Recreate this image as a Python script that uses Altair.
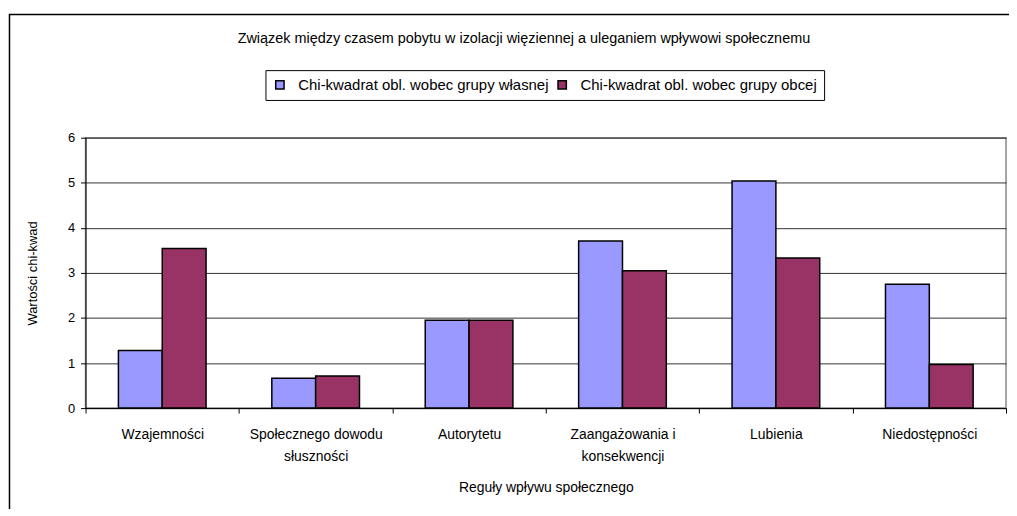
import altair as alt
import pandas as pd

categories = ["Wzajemności", "Społecznego dowodu słuszności", "Autorytetu",
              "Zaangażowania i konsekwencji", "Lubienia", "Niedostępności"]
series = ["Chi-kwadrat obl. wobec grupy własnej", "Chi-kwadrat obl. wobec grupy obcej"]
own_group = [1.28, 0.66, 1.95, 3.71, 5.04, 2.75]
other_group = [3.54, 0.71, 1.95, 3.05, 3.33, 0.97]
colors = ["#9999FF", "#993366"]
y_ticks = [0, 1, 2, 3, 4, 5, 6]

rows = []
for c, a, b in zip(categories, own_group, other_group):
    rows.append({"reguła": c, "seria": series[0], "wartość": a})
    rows.append({"reguła": c, "seria": series[1], "wartość": b})
df = pd.DataFrame(rows)

FONT = "Liberation Sans"

label_expr = ("datum.label == 'Społecznego dowodu słuszności' ? ['Społecznego dowodu', 'słuszności'] : "
              "datum.label == 'Zaangażowania i konsekwencji' ? ['Zaangażowania i', 'konsekwencji'] : datum.label")

bars = alt.Chart(df).mark_bar(stroke="black", strokeWidth=1.5).encode(
    x=alt.X("reguła:N", sort=categories,
            scale=alt.Scale(paddingInner=0, paddingOuter=0),
            axis=alt.Axis(title="Reguły wpływu społecznego", labelAngle=0,
                          labelExpr=label_expr, tickBand="extent",
                          labelFont=FONT, labelFontSize=14, labelColor="black",
                          labelLineHeight=22, labelPadding=15, labelBaseline="top",
                          titleFont=FONT, titleFontSize=14, titleFontWeight="normal",
                          titleColor="black", titlePadding=17,
                          domainColor="black", tickColor="black", tickSize=5,
                          grid=False)),
    xOffset=alt.XOffset("seria:N", sort=series,
                        scale=alt.Scale(paddingOuter=0.75, paddingInner=0)),
    y=alt.Y("wartość:Q", scale=alt.Scale(domain=[0, 6], nice=False),
            axis=alt.Axis(title="Wartości chi-kwad", values=y_ticks, format="d",
                          labelFont=FONT, labelFontSize=13, labelColor="black",
                          labelPadding=6,
                          titleFont=FONT, titleFontSize=13, titleFontWeight="normal",
                          titleColor="black", titlePadding=28,
                          domainColor="black", tickColor="black", tickSize=5,
                          grid=True, gridColor="#333333", gridWidth=1)),
    color=alt.Color("seria:N", sort=series,
                    scale=alt.Scale(domain=series, range=colors),
                    legend=alt.Legend(title=None, orient="none", direction="horizontal",
                                      legendX=181, legendY=-68,
                                      strokeColor="black", padding=7,
                                      symbolType="square", symbolSize=70,
                                      symbolStrokeColor="black", symbolStrokeWidth=1.5,
                                      symbolOpacity=1, labelOffset=11,
                                      labelFont=FONT, labelFontSize=15, labelColor="black",
                                      columnPadding=6, labelLimit=400)),
)

frame = alt.Chart(pd.DataFrame({"f": [0]})).mark_rect(
    fill=None, stroke="black", strokeWidth=1.5
).encode(x=alt.value(-76.5), y=alt.value(-124), x2=alt.value(1100), y2=alt.value(600))

chart = alt.layer(frame, bars).properties(
    width=926, height=272,
    padding={"left": 78, "top": 129, "right": 3, "bottom": 100},
    autosize=alt.AutoSizeParams(type="none"),
    title=alt.TitleParams("Związek między czasem pobytu w izolacji więziennej a uleganiem wpływowi społecznemu",
                          font=FONT, fontSize=14.5, fontWeight="normal", color="black",
                          anchor="middle", dx=-22, offset=-33),
).configure_view(stroke="#888888", strokeWidth=1.5)

chart.save("out.html", embed_options={"renderer": "svg", "actions": False})
